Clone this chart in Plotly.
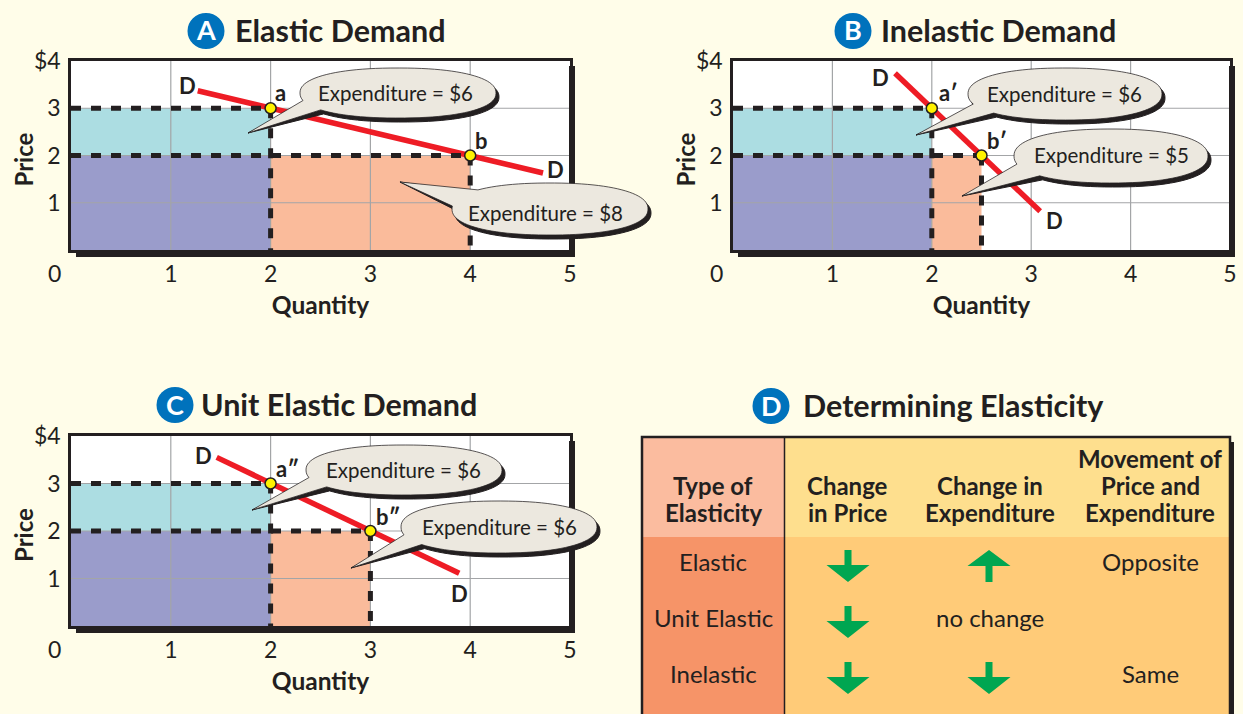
import numpy as np
import plotly.graph_objects as go

W, H = 1243, 714
BG = "#FFFDE9"; DARK = "#231F20"; GRID = "#A3A5A7"
TEAL = "#ACDDE2"; PURPLE = "#9A9CCB"; ORANGE = "#FABB9B"; RED = "#EE1C25"; YELLOW = "#FFF200"
BUBBLE = "#ECE8DF"; BLUE = "#0072BC"; GREEN = "#00A651"
H_LEFT = "#FBBC9F"; H_RIGHT = "#FEDF8E"; B_LEFT = "#F69468"; B_RIGHT = "#FFCB78"
FONT = "Lato"

# ---------- data ----------
x_ticks = [1, 2, 3, 4, 5]
y_ticks = [1, 2, 3, 4]
y_tick_text = ["1", "2", "3", "$4"]

q_a = [2, 4]; p_a = [3, 2]
q_b = [2, 2.5]; p_b = [3, 2]
q_c = [2, 3]; p_c = [3, 2]

demand_x_a = [1.27, 4.73]; demand_y_a = [3.37, 1.63]
demand_x_b = [1.63, 3.09]; demand_y_b = [3.74, 0.82]
demand_x_c = [1.46, 3.89]; demand_y_c = [3.55, 1.11]

table_header = [["Type of", "Elasticity"], ["Change", "in Price"], ["Change in", "Expenditure"],
                ["Movement of", "Price and", "Expenditure"]]
table_types = ["Elastic", "Unit Elastic", "Inelastic"]
table_price = ["down", "down", "down"]
table_spend = ["up", "none", "down"]
table_move = ["Opposite", "", "Same"]


def px(x): return x / W
def py(y): return 1 - y / H


shapes, annos = [], []


def text(x, y, s, size=20, bold=False, color=DARK, xanchor="center", angle=0):
    annos.append(dict(x=px(x), y=py(y), xref="paper", yref="paper", text=f"<b>{s}</b>" if bold else s,
                      showarrow=False, xanchor=xanchor, yanchor="middle", textangle=angle,
                      font=dict(family=FONT, size=size, color=color)))


def rect(x0, y0, x1, y1, fill, line=None, lw=0, layer="above"):
    shapes.append(dict(type="rect", xref="paper", yref="paper", x0=px(x0), x1=px(x1), y0=py(y0), y1=py(y1),
                       fillcolor=fill, line=dict(color=line or fill, width=lw), layer=layer))


def bubble_path(cx, cy, rx, ry, tip, t1, t2, dx=0, dy=0):
    # runs round the balloon from t1 to t2 (degrees, screen clockwise), then out to the tail tip
    ts = np.radians(np.linspace(t1, t2 + 360 if t2 < t1 else t2, 90))
    c, s = np.cos(ts), np.sin(ts)
    e = 2 / 2.25
    xs = cx + rx * np.sign(c) * np.abs(c) ** e + dx
    ys = cy + ry * np.sign(s) * np.abs(s) ** e + dy
    pts = [f"{px(a):.5f},{py(b):.5f}" for a, b in zip(xs, ys)]
    pts.append(f"{px(tip[0]):.5f},{py(tip[1]):.5f}")
    return "M" + " L".join(pts) + " Z"


def bubble(cx, cy, rx, ry, tip, t1, t2, label, tx, ty):
    shapes.append(dict(type="path", xref="paper", yref="paper", layer="above",
                       path=bubble_path(cx, cy, rx, ry, tip, t1, t2, 3, 4), fillcolor=DARK,
                       line=dict(color=DARK, width=1)))
    shapes.append(dict(type="path", xref="paper", yref="paper", layer="above",
                       path=bubble_path(cx, cy, rx, ry, tip, t1, t2), fillcolor=BUBBLE,
                       line=dict(color=DARK, width=0.75)))
    text(tx, ty, label, size=20.5)


def title(cx, cy, letter, s, left):
    shapes.append(dict(type="circle", xref="paper", yref="paper", layer="above", x0=px(cx - 18.5), x1=px(cx + 18.5),
                       y0=py(cy + 18), y1=py(cy - 18), fillcolor=BLUE, line=dict(width=0)))
    text(cx, cy - 1, letter, size=27, bold=True, color="white")
    text(left - 2.5, cy - 1, s, size=30.5, bold=True, xanchor="left")


def arrow(cx, top, up):
    bottom = top + 32
    if up:
        pts = [(cx, top), (cx + 21.5, top + 16), (cx + 3.5, top + 16), (cx + 3.5, bottom),
               (cx - 3.5, bottom), (cx - 3.5, top + 16), (cx - 21.5, top + 16)]
    else:
        pts = [(cx - 3.5, top), (cx + 3.5, top), (cx + 3.5, top + 15), (cx + 21.5, top + 15),
               (cx, bottom), (cx - 21.5, top + 15), (cx - 3.5, top + 15)]
    path = "M" + " L".join(f"{px(a):.5f},{py(b):.5f}" for a, b in pts) + " Z"
    shapes.append(dict(type="path", xref="paper", yref="paper", layer="above", path=path,
                       fillcolor=GREEN, line=dict(width=0)))


fig = go.Figure()
panels = [
    dict(n="", x0=71, x1=570, top=61, bot=250, q=q_a, p=p_a, dx=demand_x_a, dy=demand_y_a),
    dict(n="2", x0=733, x1=1230, top=61, bot=250, q=q_b, p=p_b, dx=demand_x_b, dy=demand_y_b),
    dict(n="3", x0=71, x1=570, top=436, bot=626, q=q_c, p=p_c, dx=demand_x_c, dy=demand_y_c),
]

layout_axes = {}
for pn in panels:
    xa, ya = "x" + pn["n"], "y" + pn["n"]
    q1, q2 = pn["q"]; p1, p2 = pn["p"]
    # areas
    for xs, ys, col in [
        ([0, q1, q1, 0, 0], [p2, p2, p1, p1, p2], TEAL),
        ([0, q1, q1, 0, 0], [0, 0, p2, p2, 0], PURPLE),
        ([q1, q2, q2, q1, q1], [0, 0, p2, p2, 0], ORANGE),
    ]:
        fig.add_trace(go.Scatter(x=xs, y=ys, fill="toself", fillcolor=col, mode="none", xaxis=xa, yaxis=ya,
                                 hoverinfo="skip", showlegend=False))
    # grid on top of the areas
    gx, gy = [], []
    for v in x_ticks[:-1]:
        gx += [v, v, None]; gy += [0, y_ticks[-1], None]
    for v in y_ticks[:-1]:
        gx += [0, x_ticks[-1], None]; gy += [v, v, None]
    fig.add_trace(go.Scatter(x=gx, y=gy, mode="lines", line=dict(color=GRID, width=1.2), xaxis=xa, yaxis=ya,
                             hoverinfo="skip", showlegend=False))
    # demand
    fig.add_trace(go.Scatter(x=pn["dx"], y=pn["dy"], mode="lines", line=dict(color=RED, width=5.5), xaxis=xa, yaxis=ya,
                             hoverinfo="skip", showlegend=False))
    # dashed guides
    for xs, ys in [([0, q1], [p1, p1]), ([0, q2], [p2, p2]), ([q1, q1], [p1, 0]), ([q2, q2], [p2, 0])]:
        fig.add_trace(go.Scatter(x=xs, y=ys, mode="lines", line=dict(color=DARK, width=5, dash="10px,10px"),
                                 xaxis=xa, yaxis=ya, hoverinfo="skip", showlegend=False))
    # points
    fig.add_trace(go.Scatter(x=pn["q"], y=pn["p"], mode="markers", xaxis=xa, yaxis=ya, hoverinfo="skip", showlegend=False,
                             marker=dict(color=YELLOW, size=11, line=dict(color=DARK, width=1.5))))

    axis_common = dict(showgrid=False, zeroline=False, showline=True, mirror=True, linecolor=DARK, linewidth=2.5,
                       tickfont=dict(family=FONT, size=23, color=DARK), fixedrange=True)
    suffix = pn["n"]
    layout_axes["xaxis" + suffix] = dict(axis_common, domain=[px(pn["x0"]), px(pn["x1"])], range=[0, 5], anchor="y" + suffix,
                                         tickvals=x_ticks, ticktext=[str(v) for v in x_ticks],
                                         ticks="outside", tickcolor="rgba(0,0,0,0)", ticklen=2,
                                         title=dict(text="<b>Quantity</b>", standoff=11,
                                                    font=dict(family=FONT, size=24.5, color=DARK)))
    layout_axes["yaxis" + suffix] = dict(axis_common, domain=[py(pn["bot"]), py(pn["top"])], range=[0, 4], anchor="x" + suffix,
                                         tickvals=y_ticks, ticktext=y_tick_text,
                                         ticks="outside", tickcolor="rgba(0,0,0,0)", ticklen=3)
    text(pn["x0"] - 48, (pn["top"] + pn["bot"]) / 2 + 4, "Price", size=24, bold=True, angle=-90)
    # hard shadow
    rect(pn["x1"] - 1, pn["top"] + 5, pn["x1"] + 5, pn["bot"] + 7, DARK)
    rect(pn["x0"] + 5, pn["bot"] + 1, pn["x1"] + 5, pn["bot"] + 7, DARK)
    text(pn["x0"] - 17, pn["bot"] + 23, "0", size=23)

# ---------- panel titles ----------
title(206, 31, "A", "Elastic Demand", 235)
title(853, 31, "B", "Inelastic Demand", 881)
title(175, 405, "C", "Unit Elastic Demand", 201)
title(771, 406, "D", "Determining Elasticity", 803)

# ---------- balloons ----------
bubble(398, 93, 98, 25, (248, 133), 165, 140, "Expenditure = $6", 395, 93)
bubble(550, 209, 98, 26, (400, 182), 225, 185, "Expenditure = $8", 545.5, 213)
bubble(1065, 94, 97, 26, (916, 135), 160, 135, "Expenditure = $6", 1064, 94)
bubble(1111, 156, 97, 27, (962, 196), 165, 135, "Expenditure = $5", 1111.5, 155)
bubble(404, 470, 98, 25, (252, 510), 165, 140, "Expenditure = $6", 403, 470)
bubble(499, 527, 98, 26, (351, 568), 165, 140, "Expenditure = $6", 499, 527)

# ---------- point and curve labels ----------
for x, y, s in [(187, 85, "D"), (280, 93, "a"), (481, 141, "b"), (555, 169, "D"),
                (880, 77, "D"), (948, 93, "a′"), (997, 141, "b′"), (1054, 220, "D"),
                (203, 456, "D"), (287, 468, "a″"), (388, 516, "b″"), (459, 593, "D")]:
    text(x, y, s, size=22, bold=True)

# ---------- panel D table ----------
rect(1230, 442, 1234, 720, DARK)
rect(642, 437, 784, 537, H_LEFT)
rect(784, 437, 1230, 537, H_RIGHT)
rect(642, 537, 784, 720, B_LEFT)
rect(784, 537, 1230, 720, B_RIGHT)
shapes.append(dict(type="line", xref="paper", yref="paper", layer="above", x0=px(784.5), x1=px(784.5), y0=py(437), y1=py(720),
                   line=dict(color=DARK, width=1.5)))
rect(642, 437, 1230, 720, "rgba(0,0,0,0)", DARK, 2.5)

col_x = [713, 848, 990, 1150]
for cx, lines in zip(col_x, table_header):
    y = 512 - 27 * (len(lines) - 1)
    for ln in lines:
        text(cx, y, ln, size=24, bold=True)
        y += 27
for i, y in enumerate([563, 619, 675]):
    text(col_x[0], y - 1.5, table_types[i], size=24)
    if table_price[i] != "none":
        arrow(col_x[1], y - 13, table_price[i] == "up")
    if table_spend[i] != "none":
        arrow(col_x[2] - 1, y - 13, table_spend[i] == "up")
    else:
        text(col_x[2], y - 1.5, "no change", size=24)
    if table_move[i]:
        text(col_x[3], y - 1.5, table_move[i], size=24)

fig.update_layout(width=W, height=H, margin=dict(l=0, r=0, t=0, b=0, autoexpand=False), paper_bgcolor=BG, plot_bgcolor="white",
                  showlegend=False, shapes=shapes, annotations=annos, hovermode=False, **layout_axes)
fig.write_html("out.html", config=dict(displayModeBar=False),
               post_script="document.body.style.margin='0';document.body.style.background='" + BG + "';")
